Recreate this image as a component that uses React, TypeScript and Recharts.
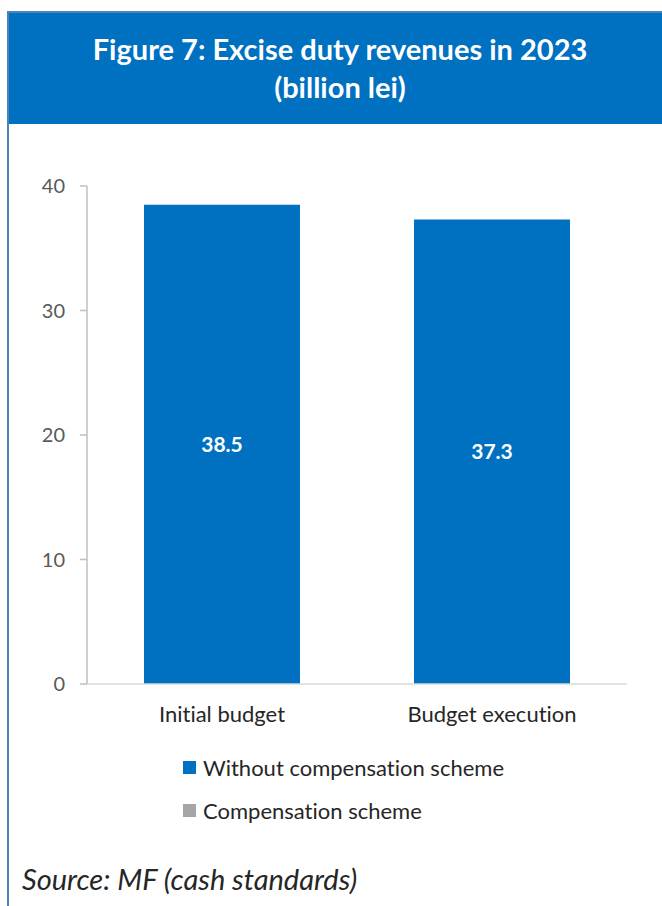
import { BarChart, Bar, XAxis, YAxis, LabelList, Legend } from 'recharts';

const categories = ['Initial budget', 'Budget execution'];
const withoutCompensation = [38.5, 37.3];
const compensation = [0, 0];
const yTicks = [0, 10, 20, 30, 40];
const seriesNames = ['Without compensation scheme', 'Compensation scheme'];

const chartData = categories.map((name, i) => ({
  name,
  without: withoutCompensation[i],
  comp: compensation[i],
}));

const FONT = 'Lato, "Open Sans", sans-serif';
const BLUE = '#0070c0';
const GRAY = '#a5a5a5';

const LegendContent = (props: any) => {
  const { payload = [] } = props;
  const items = [...payload].sort(
    (a: any, b: any) => seriesNames.indexOf(a.value) - seriesNames.indexOf(b.value)
  );
  return (
    <div style={{ fontFamily: FONT, fontVariantLigatures: 'none' }}>
      {items.map((entry: any) => (
        <div
          key={entry.value}
          style={{ display: 'flex', alignItems: 'center', height: 43, fontSize: 22, color: '#262626' }}
        >
          <span style={{ width: 13, height: 13, background: entry.color, marginRight: 7, display: 'inline-block' }} />
          <span>{entry.value}</span>
        </div>
      ))}
    </div>
  );
};

export default function App() {
  return (
    <div
      style={{
        position: 'absolute',
        left: 0,
        top: 0,
        width: 662,
        height: 906,
        overflow: 'hidden',
        background: '#fff',
        fontFamily: FONT,
        fontVariantLigatures: 'none',
      }}
    >
      <div
        style={{
          position: 'absolute',
          left: 7,
          top: 11,
          width: 720,
          height: 920,
          borderTop: '2px solid #4f81bd',
          borderLeft: '2px solid #4f81bd',
        }}
      />
      <div
        style={{
          position: 'absolute',
          left: 9,
          top: 13,
          width: 662,
          height: 111,
          background: BLUE,
          color: '#fff',
          textAlign: 'center',
          fontWeight: 700,
          fontSize: 29,
          lineHeight: '38px',
          paddingTop: 17,
          boxSizing: 'border-box',
        }}
      >
        Figure 7: Excise duty revenues in 2023
        <br />
        (billion lei)
      </div>

      <div style={{ position: 'absolute', left: 0, top: 0 }}>
        <BarChart
          width={662}
          height={906}
          data={chartData}
          margin={{ top: 186, right: 35, bottom: 182, left: 27 }}
        >
          <XAxis
            dataKey="name"
            height={40}
            tickLine={false}
            axisLine={{ stroke: '#d9d9d9', strokeWidth: 1.5 }}
            tickMargin={16}
            tick={{ fill: '#262626', fontSize: 22, fontFamily: FONT }}
          />
          <YAxis
            width={60}
            domain={[0, 40]}
            ticks={yTicks}
            interval={0}
            tickSize={7}
            tickMargin={15}
            axisLine={{ stroke: '#bfbfbf', strokeWidth: 1.5 }}
            tickLine={{ stroke: '#bfbfbf', strokeWidth: 1.5 }}
            tick={{ fill: '#595959', fontSize: 20, fontFamily: FONT }}
          />
          <Bar dataKey="without" name={seriesNames[0]} stackId="a" fill={BLUE} barSize={156} isAnimationActive={false}>
            <LabelList dataKey="without" position="center" fill="#fff" fontSize={21} fontWeight={700} fontFamily={FONT} />
          </Bar>
          <Bar dataKey="comp" name={seriesNames[1]} stackId="a" fill={GRAY} barSize={156} isAnimationActive={false} />
          <Legend
            layout="vertical"
            align="center"
            verticalAlign="middle"
            content={<LegendContent />}
            wrapperStyle={{ left: 183, top: 746, width: 'auto', height: 'auto' }}
          />
        </BarChart>
      </div>

      <div
        style={{
          position: 'absolute',
          left: 22,
          top: 861,
          fontStyle: 'italic',
          fontSize: 29,
          color: '#262626',
          lineHeight: '36px',
          whiteSpace: 'nowrap',
        }}
      >
        Source: MF (cash standards)
      </div>
    </div>
  );
}
